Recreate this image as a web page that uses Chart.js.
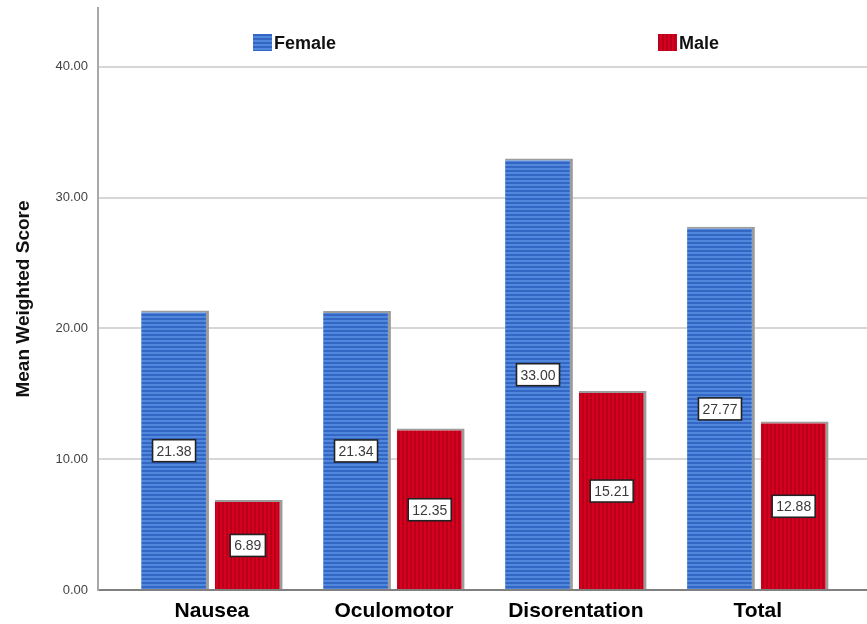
<!DOCTYPE html>
<html>
<head>
<meta charset="utf-8">
<script src="https://cdn.jsdelivr.net/npm/chart.js@4/dist/chart.umd.min.js"></script>
<style>
  html, body { margin: 0; padding: 0; background: #fff; }
  #wrap { width: 867px; height: 624px; }
</style>
</head>
<body>
<div id="wrap"><canvas id="chart" width="867" height="624"></canvas></div>
<script>
// chart data
const categories = ["Nausea", "Oculomotor", "Disorentation", "Total"];
const female = [21.38, 21.34, 33.00, 27.77];
const male = [6.89, 12.35, 15.21, 12.88];
const yTicks = [0, 10, 20, 30, 40];

const FONT = "'Liberation Sans', Arial, sans-serif";

// striped fills like the SPSS output
function stripes(light, dark, horizontal) {
  const c = document.createElement("canvas");
  c.width = 4; c.height = 4;
  const g = c.getContext("2d");
  g.fillStyle = light;
  g.fillRect(0, 0, 4, 4);
  g.fillStyle = dark;
  if (horizontal) g.fillRect(0, 2, 4, 2);
  else g.fillRect(2, 0, 2, 4);
  return g.createPattern(c, "repeat");
}
const blueFill = stripes("#5088de", "#3466c4", true);
const redFill = stripes("#d8001f", "#b8001a", false);

const toPoints = vals => vals.map((v, i) => ({ x: i, y: v }));

// boxed value labels in the middle of each bar
const valueLabels = {
  id: "valueLabels",
  afterDatasetsDraw(chart) {
    const ctx = chart.ctx;
    ctx.save();
    ctx.font = "14px " + FONT;
    ctx.textAlign = "center";
    ctx.textBaseline = "middle";
    chart.data.datasets.forEach((ds, di) => {
      chart.getDatasetMeta(di).data.forEach((el, i) => {
        const txt = ds.data[i].y.toFixed(2);
        const x = el.x - 1;
        const y = (el.y + el.base) / 2 + 1;
        const w = ctx.measureText(txt).width + 8;
        const h = 22;
        ctx.fillStyle = "#fff";
        ctx.fillRect(x - w / 2, y - h / 2, w, h);
        ctx.strokeStyle = "#222";
        ctx.lineWidth = 1.6;
        ctx.strokeRect(x - w / 2, y - h / 2, w, h);
        ctx.fillStyle = "#3a3a3a";
        ctx.fillText(txt, x, y + 1);
      });
    });
    ctx.restore();
  }
};

// legend floating inside the plot, items far apart
const floatLegend = {
  id: "floatLegend",
  afterDraw(chart) {
    const ctx = chart.ctx;
    const spots = [253, 658];
    ctx.save();
    ctx.font = "bold 18px " + FONT;
    ctx.textBaseline = "middle";
    chart.data.datasets.forEach((ds, i) => {
      const x = spots[i];
      ctx.fillStyle = ds.backgroundColor;
      ctx.fillRect(x, 34, 19, 17);
      ctx.fillStyle = "#111";
      ctx.fillText(ds.label, x + 21, 44);
    });
    ctx.restore();
  }
};

new Chart(document.getElementById("chart"), {
  type: "bar",
  data: {
    datasets: [
      {
        label: "Female",
        data: toPoints(female),
        backgroundColor: blueFill,
        borderColor: "#9c9c9c",
        borderWidth: { top: 2, right: 3, left: 0, bottom: 0 },
        borderSkipped: false
      },
      {
        label: "Male",
        data: toPoints(male),
        backgroundColor: redFill,
        borderColor: "#9c9c9c",
        borderWidth: { top: 2, right: 3, left: 0, bottom: 0 },
        borderSkipped: false
      }
    ]
  },
  options: {
    responsive: false,
    animation: false,
    categoryPercentage: 0.81,
    barPercentage: 0.92,
    layout: { padding: 0 },
    plugins: {
      legend: { display: false },
      tooltip: { enabled: false }
    },
    scales: {
      x: {
        type: "linear",
        offset: false,
        min: -0.626,
        max: 3.6,
        afterBuildTicks: s => { s.ticks = categories.map((c, i) => ({ value: i })); },
        afterFit: s => { s.height = 34; },
        ticks: {
          callback: v => categories[v],
          color: "#000",
          font: { family: FONT, size: 21, weight: "bold" },
          padding: 9,
          autoSkip: false,
          maxRotation: 0
        },
        grid: { display: false, drawTicks: false },
        border: { color: "#808080", width: 2 }
      },
      y: {
        min: 0,
        max: 44.5,
        afterBuildTicks: s => { s.ticks = yTicks.map(v => ({ value: v })); },
        afterFit: s => { s.width = 98; s.paddingTop = 8; },
        ticks: {
          callback: v => v.toFixed(2),
          color: "#444",
          font: { family: FONT, size: 13 },
          padding: 10
        },
        grid: {
          color: c => (c.tick && c.tick.value === 0 ? "rgba(0,0,0,0)" : "#d6d6d6"),
          lineWidth: 2,
          drawTicks: false
        },
        border: { color: "#a8a8a8", width: 2 },
        title: {
          display: true,
          text: "Mean Weighted Score",
          color: "#111",
          font: { family: FONT, size: 19, weight: "bold" },
          padding: { top: 12, bottom: 0 }
        }
      }
    }
  },
  plugins: [valueLabels, floatLegend]
});
</script>
</body>
</html>
